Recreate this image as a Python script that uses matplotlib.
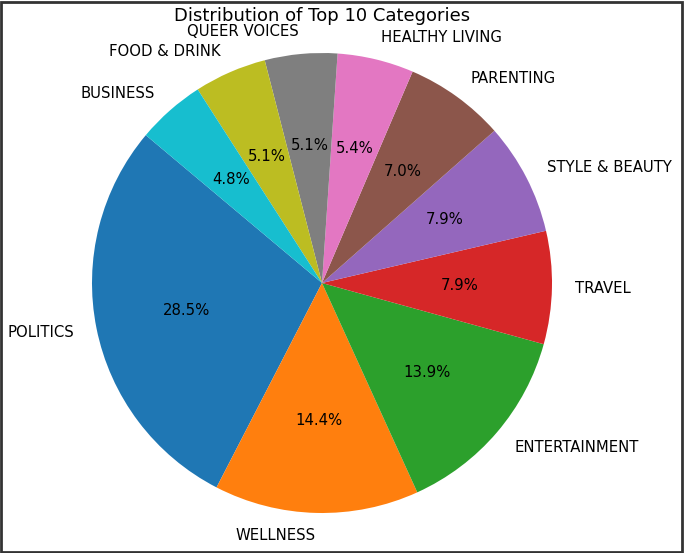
import matplotlib
matplotlib.use('Agg')
import matplotlib.pyplot as plt
from matplotlib.patches import Rectangle

categories = ['POLITICS', 'WELLNESS', 'ENTERTAINMENT', 'TRAVEL', 'STYLE & BEAUTY',
              'PARENTING', 'HEALTHY LIVING', 'QUEER VOICES', 'FOOD & DRINK', 'BUSINESS']
counts = [35602, 17945, 17362, 9900, 9814, 8791, 6694, 6347, 6340, 5992]

fig = plt.figure(figsize=(6.85, 5.53), dpi=100)
# pie axes: center (322,283) px, radius ~230 px
ax = fig.add_axes([92/685, 40/553, 460/685, 460/553])
ax.pie(counts, labels=categories, autopct='%1.1f%%', startangle=140,
       textprops={'fontsize': 10.7})
ax.set_xlim(-1, 1)
ax.set_ylim(-1, 1)
ax.set_aspect('equal')
ax.axis('off')

fig.text(322/685, 1 - 16/553, 'Distribution of Top 10 Categories', ha='center', va='center', fontsize=13)

# screenshot frame
fig.patches.append(Rectangle((0.002, 0.002), 0.994, 0.994, transform=fig.transFigure,
                             fill=False, edgecolor='#333333', linewidth=2))

plt.savefig('out.png', dpi=100)
